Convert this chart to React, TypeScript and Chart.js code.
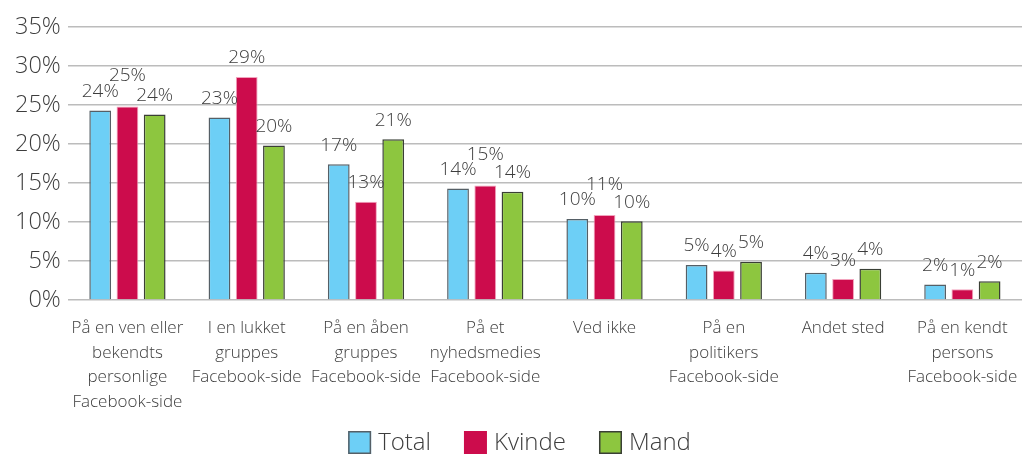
import React, { useEffect, useRef } from "react";
import { Chart, registerables } from "chart.js";

Chart.register(...registerables);

const categories: string[][] = [
  ["På en ven eller", "bekendts", "personlige", "Facebook-side"],
  ["I en lukket", "gruppes", "Facebook-side"],
  ["På en åben", "gruppes", "Facebook-side"],
  ["På et", "nyhedsmedies", "Facebook-side"],
  ["Ved ikke"],
  ["På en", "politikers", "Facebook-side"],
  ["Andet sted"],
  ["På en kendt", "persons", "Facebook-side"],
];

const totalValues = [24.3, 23.4, 17.4, 14.3, 10.4, 4.5, 3.5, 2.0];
const kvindeValues = [24.8, 28.6, 12.6, 14.7, 10.9, 3.8, 2.7, 1.4];
const mandValues = [23.8, 19.8, 20.6, 13.9, 10.1, 4.9, 4.0, 2.4];

const seriesNames = ["Total", "Kvinde", "Mand"];
const yMin = 0;
const yMax = 35;
const yStep = 5;

const TEXT = "#3d3d3d";
const FONT = "'Open Sans'";
const W = "300";

const valueLabelPlugin = {
  id: "valueLabels",
  afterDatasetsDraw(chart: any) {
    const ctx = chart.ctx;
    ctx.save();
    ctx.font = `${W} 19px ${FONT}`;
    ctx.fillStyle = TEXT;
    ctx.textAlign = "center";
    ctx.textBaseline = "alphabetic";
    const capH = 13.5;
    const n = chart.data.labels.length;
    const order = [0, 2, 1];
    for (let i = 0; i < n; i++) {
      const rects: any[] = [];
      for (const d of order) {
        const meta = chart.getDatasetMeta(d);
        const bar = meta.data[i];
        const v = chart.data.datasets[d].data[i];
        const text = Math.round(v) + "%";
        const w = ctx.measureText(text).width;
        let base = bar.y - 13.5;
        let moved = true;
        while (moved) {
          moved = false;
          for (const o of rects) {
            const l = bar.x - w / 2, r = bar.x + w / 2, t = base - capH, b = base;
            if (l < o.r && r > o.l && t < o.b && b > o.t) {
              base = o.t - 2;
              moved = true;
            }
          }
        }
        rects.push({ l: bar.x - w / 2, r: bar.x + w / 2, t: base - capH, b: base });
        ctx.fillText(text, bar.x, base);
      }
    }
    ctx.restore();
  },
};

const legendPlugin = {
  id: "bottomLegend",
  afterDraw(chart: any) {
    const ctx = chart.ctx;
    ctx.save();
    ctx.font = `${W} 24px ${FONT}`;
    const box = 23, gap = 7, spacing = 33;
    const items = chart.data.datasets.map((ds: any) => ({
      text: ds.label,
      fill: ds.backgroundColor,
      stroke: ds.legendBorder,
      w: ctx.measureText(ds.label).width,
    }));
    const totalW =
      items.reduce((s: number, it: any) => s + box + gap + it.w, 0) +
      spacing * (items.length - 1);
    let x = chart.width / 2 - totalW / 2 + 3;
    const top = chart.height - 24;
    for (const it of items) {
      ctx.fillStyle = it.fill;
      ctx.fillRect(x, top, box, box);
      if (it.stroke) {
        ctx.strokeStyle = it.stroke;
        ctx.lineWidth = 1.5;
        ctx.strokeRect(x + 0.75, top + 0.75, box - 1.5, box - 1.5);
      }
      ctx.fillStyle = TEXT;
      ctx.textAlign = "left";
      ctx.textBaseline = "middle";
      ctx.fillText(it.text, x + box + gap, top + box / 2 + 1);
      x += box + gap + it.w + spacing;
    }
    ctx.restore();
  },
};

export default function App() {
  const ref = useRef<HTMLCanvasElement>(null);

  useEffect(() => {
    if (!ref.current) return;
    const chart = new Chart(ref.current, {
      type: "bar",
      data: {
        labels: categories,
        datasets: [
          {
            label: seriesNames[0],
            data: totalValues,
            backgroundColor: "#6dcff6",
            borderColor: "#555f66",
            borderWidth: 1.5,
            legendBorder: "#555f66",
          } as any,
          {
            label: seriesNames[1],
            data: kvindeValues,
            backgroundColor: "#cc0c4c",
            borderColor: "#f2a3bd",
            borderWidth: 1,
            legendBorder: null,
          } as any,
          {
            label: seriesNames[2],
            data: mandValues,
            backgroundColor: "#8dc63f",
            borderColor: "#3a3f35",
            borderWidth: 1.5,
            legendBorder: "#3a3f35",
          } as any,
        ],
      },
      options: {
        responsive: false,
        animation: false,
        layout: { padding: { left: 8, top: 27, right: 11, bottom: 33 } },
        datasets: {
          bar: { categoryPercentage: 0.685, barPercentage: 0.8 },
        },
        plugins: {
          legend: { display: false },
          tooltip: { enabled: false },
        },
        scales: {
          x: {
            grid: { display: false },
            border: { display: false },
            ticks: {
              color: TEXT,
              padding: 8,
              maxRotation: 0,
              autoSkip: false,
              font: { family: FONT, size: 17, weight: W as any, lineHeight: 1.44 },
            },
          },
          y: {
            min: yMin,
            max: yMax,
            border: { display: false },
            grid: { color: "#bcbcbc", lineWidth: 1.5, drawTicks: false },
            ticks: {
              stepSize: yStep,
              padding: 7,
              color: TEXT,
              font: { family: FONT, size: 23.5, weight: W as any },
              callback: (v: any) => v + "%",
            },
          },
        },
      },
      plugins: [valueLabelPlugin, legendPlugin],
    });
    return () => chart.destroy();
  }, []);

  return (
    <div style={{ position: "absolute", left: 0, top: 0, width: 1033, height: 455, background: "#fff" }}>
      <canvas ref={ref} width={1033} height={455} style={{ display: "block" }} />
    </div>
  );
}
